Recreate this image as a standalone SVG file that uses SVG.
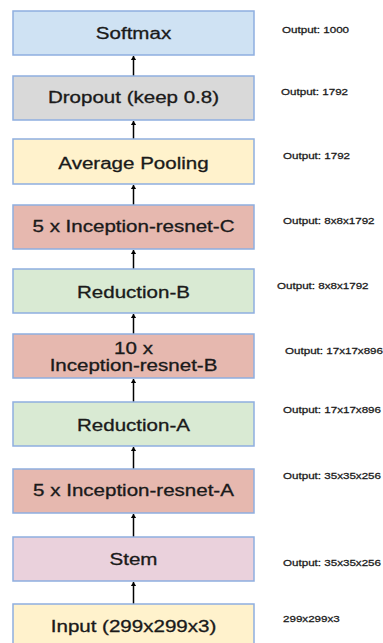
<svg xmlns="http://www.w3.org/2000/svg" width="383" height="643" viewBox="0 0 383 643">
  <style>
    .box { stroke: #8eaee0; stroke-width: 1.5; }
    .lbl { font-family: "Liberation Sans", Arial, sans-serif; font-size: 15.8px; fill: #1a1a1a; stroke: #1a1a1a; stroke-width: 0.3; text-anchor: middle; }
    .out { font-family: "Liberation Sans", Arial, sans-serif; font-size: 8.6px; fill: #1a1a1a; stroke: #1a1a1a; stroke-width: 0.25; }
    .edge { stroke: #000; stroke-width: 1.5; fill: none; marker-end: url(#head); }
  </style>
  <defs>
    <marker id="head" viewBox="0 0 6 8" refX="6" refY="4" markerWidth="4" markerHeight="5.3" orient="auto" markerUnits="userSpaceOnUse">
      <path d="M0,0 L6,4 L0,8 Z" fill="#000"/>
    </marker>
  </defs>
  <rect width="383" height="643" fill="#fff"/>

  <!-- connectors: each block feeds the one above -->
  <g id="connectors">
    <line class="edge" x1="133.5" y1="76" x2="133.5" y2="56"/>
    <line class="edge" x1="133.5" y1="139" x2="133.5" y2="121"/>
    <line class="edge" x1="133.5" y1="205" x2="133.5" y2="185"/>
    <line class="edge" x1="133.5" y1="269" x2="133.5" y2="250"/>
    <line class="edge" x1="133.5" y1="334" x2="133.5" y2="314"/>
    <line class="edge" x1="133.5" y1="402" x2="133.5" y2="379"/>
    <line class="edge" x1="133.5" y1="469" x2="133.5" y2="447"/>
    <line class="edge" x1="133.5" y1="537" x2="133.5" y2="514"/>
    <line class="edge" x1="133.5" y1="604" x2="133.5" y2="582"/>
  </g>

  <g id="softmax">
    <rect class="box" x="13" y="11" width="241" height="44" fill="#cfe2f3"/>
    <text class="lbl" transform="translate(133.5,39) scale(1.3,1)">Softmax</text>
    <text class="out" transform="translate(282,33) scale(1.35,1)">Output: 1000</text>
  </g>

  <g id="dropout">
    <rect class="box" x="13" y="76" width="241" height="44" fill="#d9d9d9"/>
    <text class="lbl" transform="translate(133.5,103) scale(1.3,1)">Dropout (keep 0.8)</text>
    <text class="out" transform="translate(281,95) scale(1.35,1)">Output: 1792</text>
  </g>

  <g id="avgpool">
    <rect class="box" x="13" y="139" width="241" height="45" fill="#fff2cc"/>
    <text class="lbl" transform="translate(133.5,169) scale(1.3,1)">Average Pooling</text>
    <text class="out" transform="translate(283,159) scale(1.35,1)">Output: 1792</text>
  </g>

  <g id="inception-c">
    <rect class="box" x="13" y="205" width="241" height="44" fill="#e6b8af"/>
    <text class="lbl" transform="translate(133.5,232) scale(1.3,1)">5 x Inception-resnet-C</text>
    <text class="out" transform="translate(283,224) scale(1.35,1)">Output: 8x8x1792</text>
  </g>

  <g id="reduction-b">
    <rect class="box" x="13" y="269" width="241" height="44" fill="#d9ead3"/>
    <text class="lbl" transform="translate(133.5,297.5) scale(1.3,1)">Reduction-B</text>
    <text class="out" transform="translate(277,289) scale(1.35,1)">Output: 8x8x1792</text>
  </g>

  <g id="inception-b">
    <rect class="box" x="13" y="334" width="241" height="44" fill="#e6b8af"/>
    <text class="lbl" transform="translate(133.5,354) scale(1.3,1)">10 x</text>
    <text class="lbl" transform="translate(133.5,371) scale(1.3,1)">Inception-resnet-B</text>
    <text class="out" transform="translate(285,354) scale(1.35,1)">Output: 17x17x896</text>
  </g>

  <g id="reduction-a">
    <rect class="box" x="13" y="402" width="241" height="44" fill="#d9ead3"/>
    <text class="lbl" transform="translate(133.5,430.5) scale(1.3,1)">Reduction-A</text>
    <text class="out" transform="translate(283,413) scale(1.35,1)">Output: 17x17x896</text>
  </g>

  <g id="inception-a">
    <rect class="box" x="13" y="469" width="241" height="44" fill="#e6b8af"/>
    <text class="lbl" transform="translate(133.5,496) scale(1.3,1)">5 x Inception-resnet-A</text>
    <text class="out" transform="translate(283,479) scale(1.35,1)">Output: 35x35x256</text>
  </g>

  <g id="stem">
    <rect class="box" x="13" y="537" width="241" height="44" fill="#ead1dc"/>
    <text class="lbl" transform="translate(133.5,564.5) scale(1.3,1)">Stem</text>
    <text class="out" transform="translate(283,566) scale(1.35,1)">Output: 35x35x256</text>
  </g>

  <g id="input">
    <rect class="box" x="13" y="604" width="241" height="46" fill="#fff2cc"/>
    <text class="lbl" transform="translate(133.5,631.5) scale(1.3,1)">Input (299x299x3)</text>
    <text class="out" transform="translate(283,622) scale(1.35,1)">299x299x3</text>
  </g>
</svg>
